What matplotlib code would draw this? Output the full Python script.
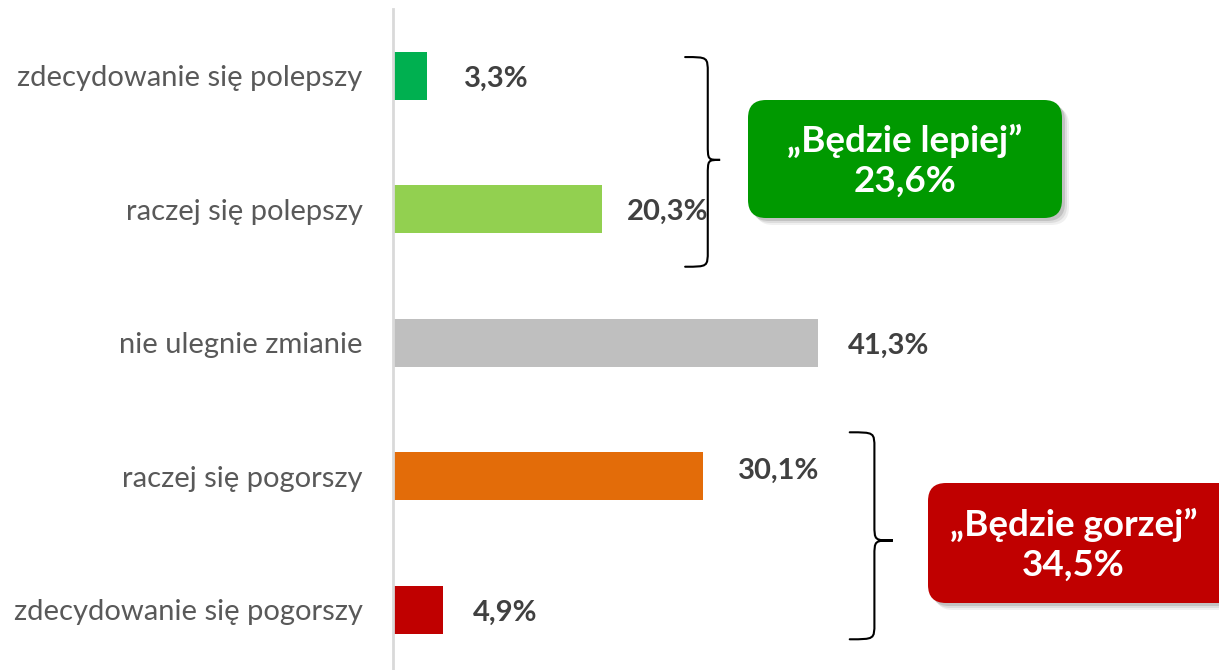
import matplotlib
matplotlib.use("Agg")
import matplotlib.pyplot as plt
from matplotlib.patches import FancyBboxPatch, PathPatch
from matplotlib.path import Path

plt.rcParams['font.family'] = ['Lato', 'DejaVu Sans']

categories = ["zdecydowanie się polepszy", "raczej się polepszy", "nie ulegnie zmianie",
              "raczej się pogorszy", "zdecydowanie się pogorszy"]
values = [3.3, 20.3, 41.3, 30.1, 4.9]
bar_colors = ["#00b050", "#92d050", "#bfbfbf", "#e36c09", "#c00000"]
value_labels = ["3,3%", "20,3%", "41,3%", "30,1%", "4,9%"]

group_titles = ["\u201eBędzie lepiej\u201d", "\u201eBędzie gorzej\u201d"]
group_totals = ["23,6%", "34,5%"]
group_colors = ["#009900", "#c00000"]


def brace(ax, x0, xs, xt, y_top, y_tip, y_bot, r=0.12):
    # curly brace opening to the left, tip pointing right
    dx = xs - x0
    verts = [
        (x0, y_top), (x0 + dx, y_top), (xs, y_top), (xs, y_top + r),
        (xs, y_tip - r),
        (xs, y_tip), (xs, y_tip), (xt, y_tip),
        (xs, y_tip), (xs, y_tip), (xs, y_tip + r),
        (xs, y_bot - r),
        (xs, y_bot), (x0 + dx, y_bot), (x0, y_bot),
    ]
    codes = [Path.MOVETO, Path.CURVE4, Path.CURVE4, Path.CURVE4,
             Path.LINETO,
             Path.CURVE4, Path.CURVE4, Path.CURVE4,
             Path.CURVE4, Path.CURVE4, Path.CURVE4,
             Path.LINETO,
             Path.CURVE4, Path.CURVE4, Path.CURVE4]
    ax.add_patch(PathPatch(Path(verts, codes), fill=False, lw=1.5, edgecolor="black",
                           capstyle="round", clip_on=False))


def label_box(fig, x0, y0, x1, y1, color, title, total):
    W, H = fig.get_size_inches() * fig.dpi
    asp = W / H
    rs = 18 / W
    # soft shadow: a few stacked translucent boxes
    for k, a in [(7, 0.06), (5, 0.08), (3, 0.12)]:
        sh = FancyBboxPatch(((x0 + k) / W, 1 - (y1 + k) / H), (x1 - x0) / W, (y1 - y0) / H,
                            boxstyle=f"round,pad=0,rounding_size={rs}", mutation_aspect=asp,
                            transform=fig.transFigure, facecolor="#000000", alpha=a,
                            edgecolor="none")
        fig.add_artist(sh)
    box = FancyBboxPatch((x0 / W, 1 - y1 / H), (x1 - x0) / W, (y1 - y0) / H,
                         boxstyle=f"round,pad=0,rounding_size={rs}", mutation_aspect=asp,
                         transform=fig.transFigure, facecolor=color, edgecolor="none")
    fig.add_artist(box)
    cx = (x0 + min(x1, W)) / 2 / W
    cy = 1 - ((y0 + y1) / 2 + 2) / H
    fig.text(cx, cy, title + "\n" + total, ha="center", va="center", color="white",
             fontsize=26.5, fontweight="bold", linespacing=1.25)


fig = plt.figure(figsize=(12.19, 6.70), dpi=100)
ax = fig.add_axes([393 / 1219, 0, 1 - 393 / 1219, 1 - 9 / 670])

y = range(len(categories))
ax.barh(y, values, height=0.36, color=bar_colors)
ax.set_xlim(0, 80.3)
ax.set_ylim(4.45, -0.5)

offsets = [(3.6, 0.02), (2.4, 0.02), (2.9, 0.02), (3.4, -0.04), (2.9, 0.02)]
for i, (v, lab) in enumerate(zip(values, value_labels)):
    ax.text(v + offsets[i][0], i + offsets[i][1], lab, va="center", ha="left",
            fontsize=21, fontweight="bold", color="#404040")

ax.set_yticks(list(y))
ax.set_yticklabels(categories, fontsize=21, color="#595959")
ax.tick_params(axis="y", length=0, pad=22)
ax.set_xticks([])
for s in ["top", "right", "bottom"]:
    ax.spines[s].set_visible(False)
ax.spines["left"].set_color("#d9d9d9")
ax.spines["left"].set_linewidth(2)

brace(ax, 28.4, 30.6, 31.8, -0.14, 0.63, 1.43)
brace(ax, 44.4, 46.8, 48.6, 2.67, 3.48, 4.22)

label_box(fig, 748, 100, 1062, 218, group_colors[0], group_titles[0], group_totals[0])
label_box(fig, 928, 483, 1240, 603, group_colors[1], group_titles[1], group_totals[1])

fig.savefig("out.png", dpi=100)
